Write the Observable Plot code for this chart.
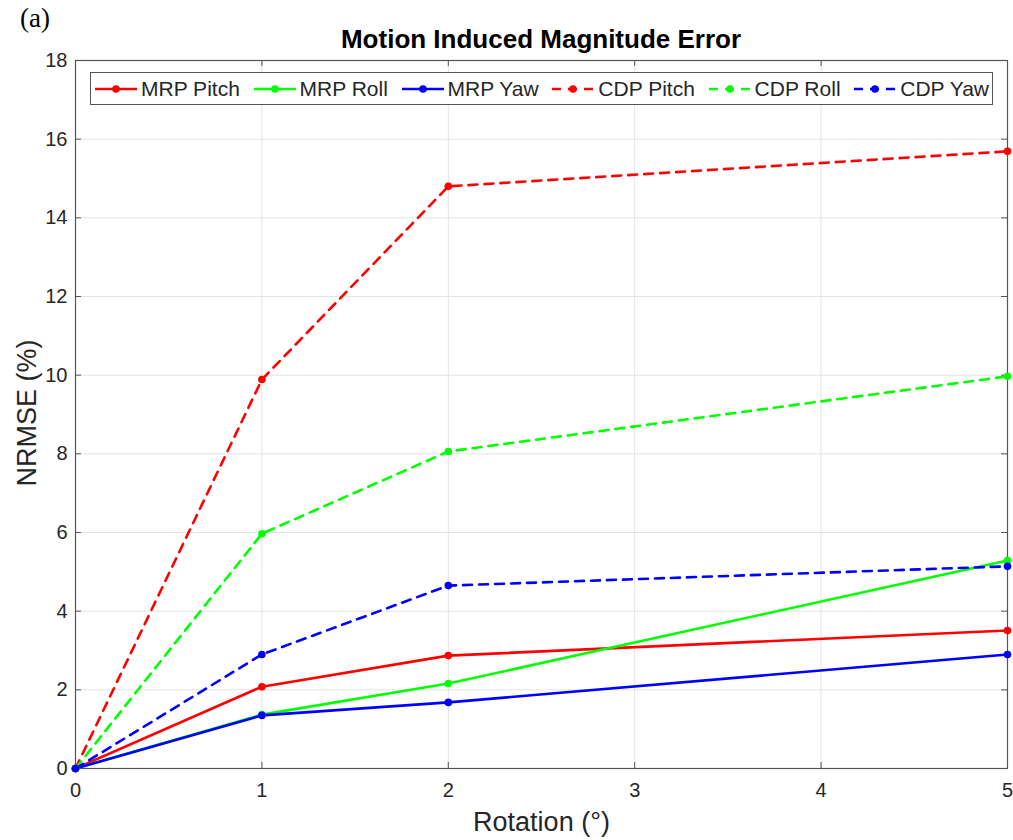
<!DOCTYPE html>
<html>
<head>
<meta charset="utf-8">
<script src="https://cdn.jsdelivr.net/npm/d3@7"></script>
<script src="https://cdn.jsdelivr.net/npm/@observablehq/plot@0.6"></script>
<style>
  html, body { margin: 0; padding: 0; background: #fff; }
  #wrap { position: relative; width: 1013px; height: 840px; font-family: "Liberation Sans", Arial, sans-serif; }
  #tag { position: absolute; left: 20px; top: 3px; font-family: "Liberation Serif", "Times New Roman", serif; font-size: 27px; color: #000; }
  #title { position: absolute; left: 75px; width: 932px; top: 24px; text-align: center; font-weight: bold; font-size: 26px; color: #000; }
  #ylabel { position: absolute; left: 27px; top: 413px; transform: translate(-50%, -50%) rotate(-90deg); white-space: nowrap; font-size: 27px; color: #262626; }
  #legend { position: absolute; left: 90px; top: 72px; width: 903px; height: 33px; border: 1px solid #555; background: #fff;
            display: flex; align-items: center; justify-content: space-between; padding: 0 3px; box-sizing: border-box; }
  .item { display: flex; align-items: center; font-size: 21px; color: #262626; }
  .item svg { margin-right: 3px; }
</style>
</head>
<body>
<div id="wrap">
  <div id="chart"></div>
  <div id="tag">(a)</div>
  <div id="title">Motion Induced Magnitude Error</div>
  <div id="ylabel">NRMSE (%)</div>
  <div id="legend"></div>
</div>
<script>
const rotation = [0, 1, 2, 5];
const mrpPitch = [0, 2.08, 2.87, 3.51];
const mrpRoll  = [0, 1.37, 2.16, 5.29];
const mrpYaw   = [0, 1.35, 1.68, 2.90];
const cdpPitch = [0, 9.89, 14.80, 15.69];
const cdpRoll  = [0, 5.97, 8.06, 9.97];
const cdpYaw   = [0, 2.90, 4.65, 5.14];
const seriesNames = ["MRP Pitch", "MRP Roll", "MRP Yaw", "CDP Pitch", "CDP Roll", "CDP Yaw"];
const seriesColors = ["#ff0000", "#00ff00", "#0000ff", "#ff0000", "#00ff00", "#0000ff"];
const xTicks = [0, 1, 2, 3, 4, 5];
const yTicks = [0, 2, 4, 6, 8, 10, 12, 14, 16, 18];

const seriesValues = [mrpPitch, mrpRoll, mrpYaw, cdpPitch, cdpRoll, cdpYaw];
const data = [];
seriesNames.forEach((name, i) => {
  rotation.forEach((r, j) => data.push({series: name, rotation: r, value: seriesValues[i][j], dashed: name.startsWith("CDP")}));
});

const W = 1013, H = 840, mL = 75, mR = 6, mT = 60, mB = 72;
const fw = W - mL - mR, fh = H - mT - mB, tk = 6;
const tickColor = "#262626";

const chart = Plot.plot({
  width: W, height: H,
  marginLeft: mL, marginRight: mR, marginTop: mT, marginBottom: mB,
  style: {fontFamily: "'Liberation Sans', Arial, sans-serif", background: "#fff", overflow: "visible"},
  x: {domain: [0, 5], ticks: xTicks},
  y: {domain: [0, 18], ticks: yTicks},
  color: {domain: seriesNames, range: seriesColors},
  marks: [
    Plot.gridX(xTicks, {stroke: "#e3e3e3", strokeOpacity: 1, strokeWidth: 1}),
    Plot.gridY(yTicks, {stroke: "#e3e3e3", strokeOpacity: 1, strokeWidth: 1}),
    Plot.ruleX(xTicks, {stroke: "#555", insetTop: fh - tk}),
    Plot.ruleX(xTicks, {stroke: "#555", insetBottom: fh - tk}),
    Plot.ruleY(yTicks, {stroke: "#555", insetRight: fw - tk}),
    Plot.ruleY(yTicks, {stroke: "#555", insetLeft: fw - tk}),
    Plot.frame({stroke: "#555", strokeWidth: 1.2}),
    Plot.axisX(xTicks, {tickSize: 0, tickPadding: 14, fontSize: 20, fill: tickColor, label: null, tickFormat: d3.format("d")}),
    Plot.axisY(yTicks, {tickSize: 0, tickPadding: 8, fontSize: 20, fill: tickColor, label: null, tickFormat: d3.format("d")}),
    Plot.text(["Rotation (°)"], {text: d => d, frameAnchor: "bottom", dy: 62, fontSize: 27, fill: tickColor}),
    Plot.line(data.filter(d => !d.dashed), {x: "rotation", y: "value", z: "series", stroke: "series", strokeWidth: 2.6}),
    Plot.line(data.filter(d => d.dashed), {x: "rotation", y: "value", z: "series", stroke: "series", strokeWidth: 2.6, strokeDasharray: "9,7"}),
    Plot.dot(data, {x: "rotation", y: "value", fill: "series", r: 3.8})
  ]
});
document.getElementById("chart").appendChild(chart);

const legend = d3.select("#legend");
seriesNames.forEach((name, i) => {
  const item = legend.append("div").attr("class", "item");
  const s = item.append("svg").attr("width", 44).attr("height", 12);
  s.append("line").attr("x1", 1).attr("x2", 43).attr("y1", 6).attr("y2", 6)
    .attr("stroke", seriesColors[i]).attr("stroke-width", 2.6)
    .attr("stroke-dasharray", name.startsWith("CDP") ? "9,7" : null);
  s.append("circle").attr("cx", 22).attr("cy", 6).attr("r", 3.8).attr("fill", seriesColors[i]);
  item.append("span").text(name);
});
</script>
</body>
</html>
